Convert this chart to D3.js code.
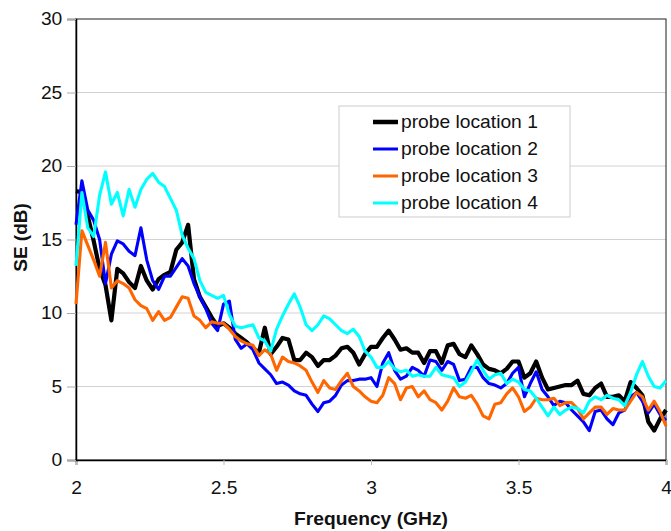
<!DOCTYPE html>
<html><head><meta charset="utf-8">
<script src="https://cdn.jsdelivr.net/npm/d3@7"></script>
<style>body{margin:0;background:#fff}svg{display:block}text{font-family:"Liberation Sans",Arial,sans-serif}</style>
</head><body>
<svg id="chart" width="671" height="531"></svg>
<script>
const seriesNames = ["probe location 1","probe location 2","probe location 3","probe location 4"];
const seriesColors = ["#000000","#0000ff","#ff6600","#00ffff"];
const xTicks = [2, 2.5, 3, 3.5, 4];
const yTicks = [0, 5, 10, 15, 20, 25, 30];
const freqStart = 2.0, freqStep = 0.02;

const probe1 = [18.3,18.2,16.6,14.9,13.0,11.9,9.5,13.0,12.7,12.1,11.7,13.2,12.2,11.6,12.3,12.6,12.8,14.3,14.8,16.0,12.3,11.1,10.4,9.7,9.1,9.3,
 9.0,8.6,8.3,8.0,7.6,7.3,9.0,7.2,7.7,8.3,8.2,6.8,6.8,7.3,7.0,6.4,6.8,6.8,7.1,7.6,7.7,7.3,6.5,7.2,7.7,
 7.7,8.3,8.8,8.2,7.5,7.6,7.3,7.3,6.6,7.4,7.4,6.6,7.8,7.9,7.2,7.0,7.8,7.2,6.5,6.2,6.1,5.9,6.2,6.7,6.7,
 5.6,5.9,6.7,5.6,4.8,4.9,5.0,5.1,5.1,5.4,4.5,4.4,4.9,5.2,4.3,4.3,4.4,4.0,5.3,4.9,4.4,2.6,2.0,2.8,3.4];
const probe2 = [16.0,19.0,17.0,16.3,15.0,12.0,14.0,14.9,14.7,14.2,13.9,15.8,13.6,12.2,11.6,12.5,12.5,13.1,13.7,13.2,12.0,11.1,10.3,9.3,8.8,10.6,
 10.8,8.2,7.6,7.9,7.5,6.6,6.2,5.8,5.2,5.3,5.1,4.7,4.5,4.4,3.8,3.3,3.9,4.0,4.4,5.1,5.4,5.4,5.5,5.5,5.6,
 5.0,6.6,7.3,6.1,5.5,5.7,6.3,6.1,5.7,6.8,6.7,6.1,6.7,6.5,5.4,5.5,6.3,6.3,5.6,5.2,5.1,4.9,5.2,5.9,6.3,
 4.3,5.2,6.0,4.8,4.3,3.7,4.0,3.9,3.4,3.0,2.6,2.0,3.3,3.4,2.8,2.4,3.2,3.4,4.3,4.6,4.0,3.2,3.8,3.1,2.7];
const probe3 = [10.6,15.6,14.6,13.6,12.5,14.8,11.7,12.2,12.0,11.7,10.9,10.5,10.3,9.5,10.1,9.5,9.7,10.4,11.1,11.0,9.8,9.5,9.0,9.4,9.3,9.3,
 8.9,8.4,8.1,7.9,7.8,7.1,7.5,7.2,6.1,7.0,6.7,6.6,6.4,6.1,5.3,4.6,5.4,4.9,4.8,5.4,5.9,5.0,4.7,4.3,4.0,
 3.9,4.4,5.6,5.2,4.1,4.9,5.0,4.3,4.7,4.1,3.9,3.4,4.0,4.9,4.3,4.2,4.4,3.8,3.0,2.8,3.8,3.9,4.5,4.9,4.3,
 3.3,3.6,4.2,4.1,4.1,4.2,3.7,3.9,3.9,3.5,2.8,3.2,3.6,3.6,3.1,3.5,3.4,3.4,4.0,4.6,4.3,3.4,4.0,3.3,2.3];
const probe4 = [13.2,18.2,15.8,15.2,18.0,19.6,17.4,18.2,16.6,18.4,17.2,18.4,19.1,19.5,18.9,18.6,17.8,17.0,15.3,14.4,13.7,12.2,11.4,11.2,11.0,11.2,
 9.9,9.1,9.0,9.1,9.2,8.3,8.1,7.4,8.9,9.8,10.6,11.3,10.4,9.2,8.8,9.2,9.8,9.6,9.2,8.8,8.6,8.9,8.4,7.4,7.0,
 6.3,6.3,6.7,6.2,6.0,6.1,5.7,5.8,5.7,5.7,6.3,5.8,5.7,5.6,5.0,5.3,6.0,6.8,6.1,5.5,5.8,5.9,5.2,5.5,5.3,
 4.8,4.7,4.2,3.6,3.0,3.6,3.1,3.4,3.6,3.5,3.2,4.0,4.3,4.1,4.4,4.2,4.1,3.7,4.6,5.8,6.7,5.7,5.0,4.9,5.4];
const allSeries = [probe1, probe2, probe3, probe4];

const FS = 17.5, SX = 1.1;
const svg = d3.select("#chart");
const L = 76, R = 666, T = 19, B = 460;
const x = d3.scaleLinear().domain([2, 4]).range([L, R]);
const y = d3.scaleLinear().domain([0, 30]).range([B, T]);

// gridlines
svg.append("g").selectAll("line").data(yTicks.filter(d => d > 0 && d < 30)).join("line")
  .attr("x1", L).attr("x2", R).attr("y1", d => y(d)).attr("y2", d => y(d))
  .attr("stroke", "#d2d2d2").attr("stroke-width", 1);

// plot border
svg.append("rect").attr("x", L).attr("y", T).attr("width", R - L).attr("height", B - T)
  .attr("fill", "none").attr("stroke", "#444").attr("stroke-width", 1.2);

// axes
const xAxis = svg.append("g").attr("transform", `translate(0,${B})`)
  .call(d3.axisBottom(x).tickValues(xTicks).tickFormat(d3.format("")).tickSize(5).tickPadding(16.5));
xAxis.select(".domain").attr("stroke", "#000").attr("stroke-width", 1.5);
xAxis.selectAll(".tick line").attr("stroke", "#bbb");
xAxis.selectAll("text").attr("font-size", FS).attr("fill", "#111")
  .attr("transform", `scale(${SX},1)`);

const yAxis = svg.append("g").attr("transform", `translate(${L},0)`)
  .call(d3.axisLeft(y).tickValues(yTicks).tickSize(9).tickPadding(4.7));
yAxis.select(".domain").attr("stroke", "#000").attr("stroke-width", 1.5);
yAxis.selectAll(".tick line").attr("stroke", "#aaa");
yAxis.selectAll("text").attr("font-size", FS).attr("fill", "#111")
  .attr("x", -13.7 / SX).attr("transform", `scale(${SX},1)`);

// lines
const line = d3.line().x((d, i) => x(freqStart + i * freqStep)).y(d => y(d));
const widths = [4.2, 3.1, 3.1, 3.1];
allSeries.forEach((s, k) => {
  svg.append("path").datum(s).attr("d", line).attr("fill", "none")
    .attr("stroke", seriesColors[k]).attr("stroke-width", widths[k])
    .attr("stroke-linejoin", "round");
});

// axis titles
svg.append("text").attr("transform", `translate(${(L + R) / 2},524.5) scale(${SX},1)`).attr("text-anchor", "middle")
  .attr("font-size", FS).attr("font-weight", "bold").attr("fill", "#111").text("Frequency (GHz)");
svg.append("text").attr("transform", `translate(26.5,${(T + B) / 2 - 2}) rotate(-90)`)
  .attr("text-anchor", "middle").attr("font-size", 19).attr("font-weight", "bold").attr("fill", "#111").text("SE (dB)");

// legend
const lg = svg.append("g");
lg.append("rect").attr("x", 339).attr("y", 106).attr("width", 231).attr("height", 111)
  .attr("fill", "#fff").attr("stroke", "#ccc").attr("stroke-width", 1);
seriesNames.forEach((n, k) => {
  const cy = 122 + k * 27;
  lg.append("line").attr("x1", 373).attr("x2", 398).attr("y1", cy).attr("y2", cy)
    .attr("stroke", seriesColors[k]).attr("stroke-width", k === 0 ? 4.5 : 3);
  lg.append("text").attr("transform", `translate(401,${cy + 6.3}) scale(${SX},1)`)
    .attr("font-size", FS).attr("fill", "#111").text(n);
});
</script>
</body></html>
